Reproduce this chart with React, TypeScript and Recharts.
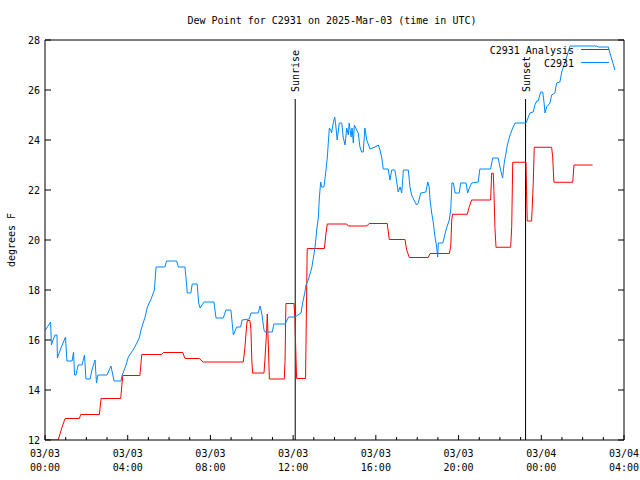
import React from 'react';
import { LineChart, Line, XAxis, YAxis, ReferenceLine } from 'recharts';

// ---- data ----
const BLUE_HOURS = [
  0.02, 0.27, 0.31, 0.39, 0.48, 0.58, 0.60, 0.77, 0.99, 1.06, 1.31, 1.38, 1.43, 1.50, 1.60, 1.79, 1.91, 1.98, 2.18, 2.27,
  2.42, 2.49, 2.56, 3.00, 3.19, 3.34, 3.68, 3.72, 3.92, 4.03, 4.32, 4.56, 4.64, 4.84, 4.95, 5.13, 5.29, 5.37, 5.80, 5.88,
  6.37, 6.45, 6.77, 6.85, 6.88, 7.05, 7.12, 7.36, 7.43, 7.50, 7.69, 8.17, 8.27, 8.62, 8.75, 8.99, 9.11, 9.27, 9.46, 9.53,
  9.88, 9.96, 10.31, 10.40, 10.48, 10.59, 10.64, 10.99, 11.07, 11.61, 11.78, 12.09, 12.38, 12.46, 12.57, 12.62, 12.73, 12.90, 13.06, 13.14,
  13.22, 13.26, 13.33, 13.38, 13.49, 13.59, 13.65, 13.75, 13.82, 13.86, 13.94, 14.01, 14.06, 14.13, 14.23, 14.35, 14.42, 14.51, 14.59, 14.67,
  14.71, 14.80, 14.85, 14.91, 14.96, 15.07, 15.15, 15.23, 15.31, 15.39, 15.47, 15.56, 15.72, 15.96, 16.12, 16.20, 16.28, 16.36, 16.60, 16.68,
  16.77, 16.92, 17.01, 17.08, 17.17, 17.25, 17.33, 17.57, 17.65, 17.73, 17.89, 17.97, 18.05, 18.17, 18.42, 18.51, 18.58, 18.62, 18.70, 18.78,
  18.86, 18.94, 18.99, 19.02, 19.23, 19.29, 19.39, 19.55, 19.62, 19.68, 19.75, 19.83, 20.03, 20.10, 20.36, 20.44, 20.52, 20.63, 20.95, 21.03,
  21.55, 21.65, 21.92, 22.00, 22.13, 22.20, 22.36, 22.49, 22.62, 22.73, 23.26, 23.32, 23.45, 23.61, 23.69, 23.78, 23.85, 23.97, 24.07, 24.13,
  24.18, 24.26, 24.42, 24.50, 24.66, 24.74, 24.90, 24.99, 25.10, 25.23, 25.39, 26.68, 26.76, 27.24, 27.32, 27.45, 27.56,
];
const BLUE_VALUES = [
  16.40, 16.72, 15.80, 16.00, 16.20, 16.20, 15.28, 15.68, 16.12, 15.16, 15.16, 15.52, 14.60, 14.60, 15.00, 15.00, 15.40, 14.44, 14.44, 14.80,
  15.20, 14.28, 14.60, 14.60, 14.96, 14.36, 14.36, 14.56, 15.00, 15.32, 15.68, 16.08, 16.40, 16.92, 17.32, 17.64, 18.00, 18.92, 18.92, 19.16,
  19.16, 18.92, 18.92, 18.20, 17.88, 17.88, 18.24, 18.24, 17.48, 17.28, 17.52, 17.52, 16.88, 16.88, 17.20, 17.20, 16.20, 16.52, 16.52, 16.80,
  16.84, 17.08, 17.08, 17.36, 17.08, 16.40, 16.32, 16.32, 16.64, 16.64, 16.92, 16.92, 17.08, 17.48, 17.92, 18.20, 18.40, 18.88, 19.72, 20.40,
  20.92, 21.60, 22.32, 22.12, 22.12, 22.80, 23.28, 24.48, 24.40, 24.28, 24.68, 24.92, 24.60, 24.00, 24.68, 24.68, 24.12, 23.80, 24.48, 24.20,
  24.68, 24.12, 24.48, 23.88, 24.60, 24.40, 24.28, 23.72, 23.52, 23.52, 24.48, 24.00, 23.64, 23.72, 23.80, 23.60, 23.32, 22.84, 22.84, 22.40,
  22.80, 22.80, 22.32, 21.92, 22.12, 21.88, 22.80, 22.80, 22.12, 21.80, 21.52, 21.40, 21.48, 21.88, 21.92, 22.32, 22.12, 21.60, 21.08, 20.68,
  20.12, 19.72, 19.32, 19.88, 19.88, 20.04, 20.40, 20.80, 21.20, 22.28, 22.28, 21.88, 21.88, 22.28, 22.28, 21.88, 22.08, 22.28, 22.32, 22.84,
  22.84, 23.28, 23.28, 22.92, 22.48, 23.04, 23.80, 24.20, 24.48, 24.68, 24.68, 24.80, 25.08, 25.12, 25.40, 25.56, 25.56, 25.92, 25.92, 25.52,
  25.08, 25.32, 25.48, 25.80, 25.88, 26.28, 26.32, 26.72, 27.00, 27.32, 27.76, 27.76, 27.72, 27.72, 27.48, 27.12, 26.80,
];

const RED_HOURS = [
  0.00, 0.64, 0.81, 0.97, 1.66, 1.73, 2.63, 2.71, 3.66, 3.76, 4.59, 4.68, 5.64, 5.72, 6.66, 6.77, 7.46, 7.65, 9.59, 9.67,
  9.75, 9.78, 9.91, 9.96, 10.00, 10.04, 10.59, 10.64, 10.72, 10.75, 10.80, 10.85, 11.57, 11.61, 11.65, 12.04, 12.09, 12.14, 12.17, 12.60,
  12.64, 12.68, 13.51, 13.59, 13.65, 14.59, 14.67, 15.56, 15.68, 16.55, 16.65, 17.41, 17.49, 17.62, 18.53, 18.62, 19.55, 19.62, 19.67, 19.71,
  20.42, 20.52, 20.63, 21.55, 21.60, 21.68, 21.71, 21.76, 21.81, 22.52, 22.57, 22.62, 23.26, 23.29, 23.32, 23.53, 23.56, 23.61, 23.66, 24.50,
  24.55, 24.61, 25.52, 25.55, 25.58, 26.48,
];
const RED_VALUES = [
  12.00, 12.00, 12.48, 12.86, 12.86, 13.02, 13.02, 13.66, 13.66, 14.58, 14.58, 15.42, 15.42, 15.50, 15.50, 15.26, 15.26, 15.12, 15.12, 15.72,
  16.56, 16.78, 16.78, 16.40, 15.20, 14.68, 14.68, 15.28, 16.40, 17.04, 15.80, 14.44, 14.44, 15.20, 17.46, 17.46, 16.80, 15.20, 14.46, 14.46,
  17.08, 19.66, 19.66, 20.28, 20.64, 20.64, 20.56, 20.56, 20.66, 20.66, 20.02, 20.02, 19.60, 19.30, 19.30, 19.46, 19.46, 19.73, 20.80, 21.03,
  21.03, 21.33, 21.60, 21.60, 22.67, 22.67, 21.93, 20.47, 19.71, 19.71, 20.53, 23.11, 23.11, 21.93, 20.76, 20.76, 21.27, 22.27, 23.71, 23.71,
  23.33, 22.31, 22.31, 22.64, 23.00, 23.00,
];

const SERIES_NAMES = ['C2931 Analysis', 'C2931'];
const SERIES_COLORS = ['#ff0000', '#0088ff'];

const X_DOMAIN = [0, 28];
const X_ALL_TICKS = [0, 1, 2, 3, 4, 5, 6, 7, 8, 9, 10, 11, 12, 13, 14, 15, 16, 17, 18, 19, 20, 21, 22, 23, 24, 25, 26, 27, 28];
const X_MAJOR_TICKS = [0, 4, 8, 12, 16, 20, 24, 28];
const X_DATE_LABELS = ['03/03', '03/03', '03/03', '03/03', '03/03', '03/03', '03/04', '03/04'];
const X_TIME_LABELS = ['00:00', '04:00', '08:00', '12:00', '16:00', '20:00', '00:00', '04:00'];

const Y_DOMAIN = [12, 28];
const Y_TICKS = [12, 14, 16, 18, 20, 22, 24, 26, 28];

const SUN_EVENTS = ['Sunrise', 'Sunset'];
const SUN_HOURS = [12.1, 23.24];
const SUN_LINE_TOP = 25.64;

const TITLE = 'Dew Point for C2931 on 2025-Mar-03 (time in UTC)';
const Y_LABEL = 'degrees F';

const FONT = '"DejaVu Sans Mono", monospace';

const redData = RED_HOURS.map((h, i) => ({ h, v: RED_VALUES[i] }));
const blueData = BLUE_HOURS.map((h, i) => ({ h, v: BLUE_VALUES[i] }));

const BottomTick = (props: any) => {
  const { x, y, payload } = props;
  const idx = X_MAJOR_TICKS.indexOf(payload.value);
  const major = idx >= 0;
  return (
    <g>
      <line x1={x} y1={y} x2={x} y2={y - (major ? 5 : 3)} stroke="#000" strokeWidth={1} />
      {major && (
        <text x={x} y={y + 17} textAnchor="middle" fontFamily={FONT} fontSize={10} fill="#000">
          {X_DATE_LABELS[idx]}
        </text>
      )}
      {major && (
        <text x={x} y={y + 31} textAnchor="middle" fontFamily={FONT} fontSize={10} fill="#000">
          {X_TIME_LABELS[idx]}
        </text>
      )}
    </g>
  );
};

const TopTick = (props: any) => {
  const { x, y, payload } = props;
  const major = X_MAJOR_TICKS.indexOf(payload.value) >= 0;
  return <line x1={x} y1={y} x2={x} y2={y + (major ? 5 : 3)} stroke="#000" strokeWidth={1} />;
};

const LeftTick = (props: any) => {
  const { x, y, payload } = props;
  return (
    <g>
      <line x1={x} y1={y} x2={x + 6} y2={y} stroke="#000" strokeWidth={1} />
      <text x={x - 5} y={y + 3.5} textAnchor="end" fontFamily={FONT} fontSize={10} fill="#000">
        {payload.value}
      </text>
    </g>
  );
};

const RightTick = (props: any) => {
  const { x, y } = props;
  return <line x1={x} y1={y} x2={x - 6} y2={y} stroke="#000" strokeWidth={1} />;
};

const VLabel = (props: any) => {
  const { viewBox, text } = props;
  if (!viewBox) return null;
  const px = viewBox.x + 0.6;
  const py = viewBox.y - 7;
  return (
    <text
      x={px}
      y={py}
      transform={`rotate(-90, ${px}, ${py})`}
      textAnchor="start"
      dominantBaseline="central"
      fontFamily={FONT}
      fontSize={10}
      fill="#000"
    >
      {text}
    </text>
  );
};

export default function App() {
  return (
    <div style={{ position: 'absolute', left: 0, top: 0, width: 640, height: 480, background: '#fff' }}>
      <LineChart width={640} height={480} margin={{ top: 0, right: 0, bottom: 0, left: 0 }}>
        <XAxis
          xAxisId="b"
          type="number"
          dataKey="h"
          domain={X_DOMAIN}
          ticks={X_ALL_TICKS}
          interval={0}
          allowDataOverflow
          height={40}
          tickSize={0}
          tickMargin={0}
          tickLine={false}
          axisLine={{ stroke: '#000', strokeWidth: 1 }}
          tick={<BottomTick />}
        />
        <XAxis
          xAxisId="t"
          orientation="top"
          type="number"
          domain={X_DOMAIN}
          ticks={X_ALL_TICKS}
          interval={0}
          allowDataOverflow
          height={40}
          tickSize={0}
          tickMargin={0}
          tickLine={false}
          axisLine={{ stroke: '#000', strokeWidth: 1 }}
          tick={<TopTick />}
        />
        <YAxis
          yAxisId="l"
          type="number"
          domain={Y_DOMAIN}
          ticks={Y_TICKS}
          interval={0}
          allowDataOverflow
          width={45}
          tickSize={0}
          tickMargin={0}
          tickLine={false}
          axisLine={{ stroke: '#000', strokeWidth: 1 }}
          tick={<LeftTick />}
        />
        <YAxis
          yAxisId="r"
          orientation="right"
          type="number"
          domain={Y_DOMAIN}
          ticks={Y_TICKS}
          interval={0}
          allowDataOverflow
          width={16}
          tickSize={0}
          tickMargin={0}
          tickLine={false}
          axisLine={{ stroke: '#000', strokeWidth: 1 }}
          tick={<RightTick />}
        />
        {SUN_EVENTS.map((name, i) => (
          <ReferenceLine
            key={name}
            xAxisId="b"
            yAxisId="l"
            segment={[
              { x: SUN_HOURS[i], y: Y_DOMAIN[0] },
              { x: SUN_HOURS[i], y: SUN_LINE_TOP },
            ]}
            stroke="#000"
            strokeWidth={1}
            ifOverflow="visible"
            label={<VLabel text={name} />}
          />
        ))}
        <Line
          xAxisId="b"
          yAxisId="l"
          data={redData}
          dataKey="v"
          type="linear"
          stroke={SERIES_COLORS[0]}
          strokeWidth={1}
          dot={false}
          isAnimationActive={false}
          name={SERIES_NAMES[0]}
        />
        <Line
          xAxisId="b"
          yAxisId="l"
          data={blueData}
          dataKey="v"
          type="linear"
          stroke={SERIES_COLORS[1]}
          strokeWidth={1}
          dot={false}
          isAnimationActive={false}
          name={SERIES_NAMES[1]}
        />
      </LineChart>
      <svg
        width={640}
        height={480}
        style={{ position: 'absolute', left: 0, top: 0, pointerEvents: 'none' }}
      >
        <text x={332} y={23.5} textAnchor="middle" fontFamily={FONT} fontSize={10} fill="#000">
          {TITLE}
        </text>
        <text
          x={11}
          y={240}
          transform="rotate(-90, 11, 240)"
          textAnchor="middle"
          dominantBaseline="central"
          fontFamily={FONT}
          fontSize={10}
          fill="#000"
        >
          {Y_LABEL}
        </text>
        {SERIES_NAMES.map((name, i) => (
          <g key={name}>
            <text x={574} y={53.5 + i * 13} textAnchor="end" fontFamily={FONT} fontSize={10} fill="#000">
              {name}
            </text>
            <line x1={581} y1={49.5 + i * 13} x2={609} y2={49.5 + i * 13} stroke={SERIES_COLORS[i]} strokeWidth={1} />
          </g>
        ))}
      </svg>
    </div>
  );
}
